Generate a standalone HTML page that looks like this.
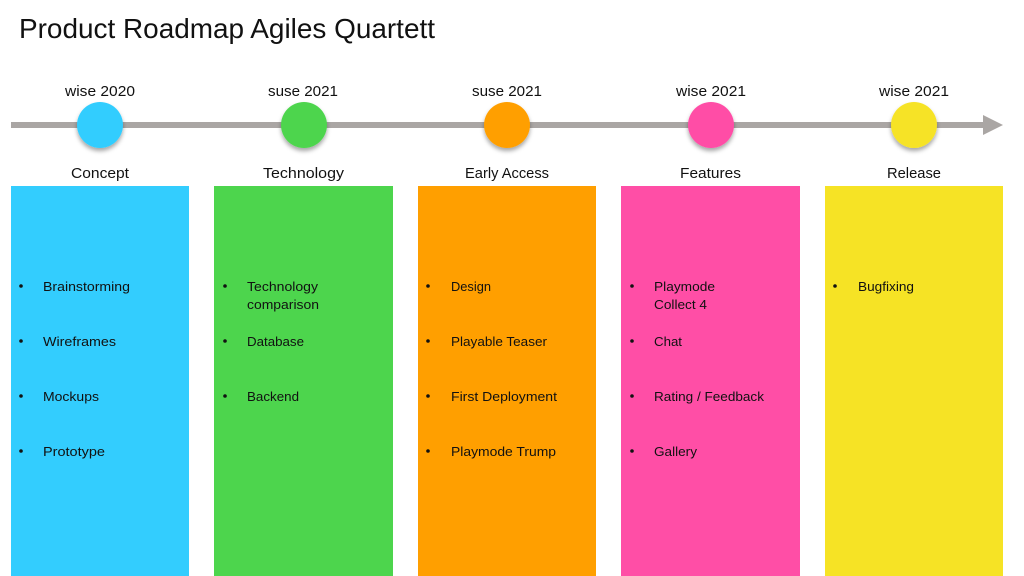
<!DOCTYPE html>
<html><head><meta charset="utf-8"><style>
html,body{margin:0;padding:0;background:#fff;}
svg{display:block;}
text{font-family:"Liberation Sans",sans-serif;fill:#111;}
</style></head><body>
<svg width="1024" height="576" viewBox="0 0 1024 576" xmlns="http://www.w3.org/2000/svg">
<defs>
<filter id="sh" x="-50%" y="-50%" width="200%" height="200%">
<feDropShadow dx="0" dy="3" stdDeviation="2" flood-color="#000" flood-opacity="0.35"/>
</filter>
</defs>
<rect width="1024" height="576" fill="#fff"/>
<text x="19" y="38" font-size="28" textLength="416" lengthAdjust="spacingAndGlyphs">Product Roadmap Agiles Quartett</text>

<!-- timeline -->
<rect x="11" y="122" width="974" height="6" fill="#aaa6a4"/>
<polygon points="983,115 1003,125 983,135" fill="#aaa6a4"/>

<circle cx="100" cy="125" r="23" fill="#33cdfe" filter="url(#sh)"/>
<circle cx="304" cy="125" r="23" fill="#4dd54d" filter="url(#sh)"/>
<circle cx="507" cy="125" r="23" fill="#ff9f00" filter="url(#sh)"/>
<circle cx="711" cy="125" r="23" fill="#ff4ea6" filter="url(#sh)"/>
<circle cx="914" cy="125" r="23" fill="#f6e325" filter="url(#sh)"/>

<text x="65" y="96" font-size="15" textLength="70" lengthAdjust="spacingAndGlyphs">wise 2020</text>
<text x="268" y="96" font-size="15" textLength="70" lengthAdjust="spacingAndGlyphs">suse 2021</text>
<text x="472" y="96" font-size="15" textLength="70" lengthAdjust="spacingAndGlyphs">suse 2021</text>
<text x="676" y="96" font-size="15" textLength="70" lengthAdjust="spacingAndGlyphs">wise 2021</text>
<text x="879" y="96" font-size="15" textLength="70" lengthAdjust="spacingAndGlyphs">wise 2021</text>

<text x="71" y="178" font-size="15" textLength="58" lengthAdjust="spacingAndGlyphs">Concept</text>
<text x="263" y="178" font-size="15" textLength="81" lengthAdjust="spacingAndGlyphs">Technology</text>
<text x="465" y="178" font-size="15" textLength="84" lengthAdjust="spacingAndGlyphs">Early Access</text>
<text x="680" y="178" font-size="15" textLength="61" lengthAdjust="spacingAndGlyphs">Features</text>
<text x="887" y="178" font-size="15" textLength="54" lengthAdjust="spacingAndGlyphs">Release</text>

<!-- columns -->
<rect x="11" y="186" width="178" height="390" fill="#33cdfe"/>
<rect x="214" y="186" width="179" height="390" fill="#4dd54d"/>
<rect x="418" y="186" width="178" height="390" fill="#ff9f00"/>
<rect x="621" y="186" width="179" height="390" fill="#ff4ea6"/>
<rect x="825" y="186" width="178" height="390" fill="#f6e325"/>

<g font-size="13">
<!-- Concept -->
<circle cx="21" cy="286" r="1.8" fill="#111"/><text x="43" y="291" textLength="87" lengthAdjust="spacingAndGlyphs">Brainstorming</text>
<circle cx="21" cy="341" r="1.8" fill="#111"/><text x="43" y="346" textLength="73" lengthAdjust="spacingAndGlyphs">Wireframes</text>
<circle cx="21" cy="396" r="1.8" fill="#111"/><text x="43" y="401" textLength="56" lengthAdjust="spacingAndGlyphs">Mockups</text>
<circle cx="21" cy="451" r="1.8" fill="#111"/><text x="43" y="456" textLength="62" lengthAdjust="spacingAndGlyphs">Prototype</text>
<!-- Technology -->
<circle cx="225" cy="286" r="1.8" fill="#111"/><text x="247" y="291" textLength="71" lengthAdjust="spacingAndGlyphs">Technology</text>
<text x="247" y="309" textLength="72" lengthAdjust="spacingAndGlyphs">comparison</text>
<circle cx="225" cy="341" r="1.8" fill="#111"/><text x="247" y="346" textLength="57" lengthAdjust="spacingAndGlyphs">Database</text>
<circle cx="225" cy="396" r="1.8" fill="#111"/><text x="247" y="401" textLength="52" lengthAdjust="spacingAndGlyphs">Backend</text>
<!-- Early Access -->
<circle cx="428" cy="286" r="1.8" fill="#111"/><text x="451" y="291" textLength="40" lengthAdjust="spacingAndGlyphs">Design</text>
<circle cx="428" cy="341" r="1.8" fill="#111"/><text x="451" y="346" textLength="96" lengthAdjust="spacingAndGlyphs">Playable Teaser</text>
<circle cx="428" cy="396" r="1.8" fill="#111"/><text x="451" y="401" textLength="106" lengthAdjust="spacingAndGlyphs">First Deployment</text>
<circle cx="428" cy="451" r="1.8" fill="#111"/><text x="451" y="456" textLength="105" lengthAdjust="spacingAndGlyphs">Playmode Trump</text>
<!-- Features -->
<circle cx="632" cy="286" r="1.8" fill="#111"/><text x="654" y="291" textLength="61" lengthAdjust="spacingAndGlyphs">Playmode</text>
<text x="654" y="309" textLength="53" lengthAdjust="spacingAndGlyphs">Collect 4</text>
<circle cx="632" cy="341" r="1.8" fill="#111"/><text x="654" y="346" textLength="28" lengthAdjust="spacingAndGlyphs">Chat</text>
<circle cx="632" cy="396" r="1.8" fill="#111"/><text x="654" y="401" textLength="110" lengthAdjust="spacingAndGlyphs">Rating / Feedback</text>
<circle cx="632" cy="451" r="1.8" fill="#111"/><text x="654" y="456" textLength="43" lengthAdjust="spacingAndGlyphs">Gallery</text>
<!-- Release -->
<circle cx="835" cy="286" r="1.8" fill="#111"/><text x="858" y="291" textLength="56" lengthAdjust="spacingAndGlyphs">Bugfixing</text>
</g>
</svg>
</body></html>
